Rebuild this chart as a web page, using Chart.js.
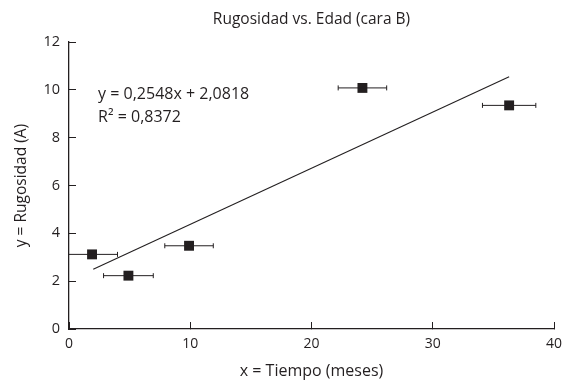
<!DOCTYPE html>
<html>
<head>
<meta charset="utf-8">
<script src="https://cdn.jsdelivr.net/npm/chart.js@4"></script>
<style>
  html, body { margin: 0; padding: 0; background: #fff; }
  #wrap { width: 566px; height: 392px; }
</style>
</head>
<body>
<div id="wrap"><canvas id="chart"></canvas></div>
<script>
// datos
const tiempo = [1.9, 4.9, 9.9, 24.2, 36.3];
const rugosidad = [3.12, 2.23, 3.48, 10.08, 9.35];
const errTiempo = [2.1, 2.05, 2.0, 2.0, 2.2];
const tendX = [2.0, 36.3];
const tendY = [2.5, 10.55];
const ecuacion = ['y = 0,2548x + 2,0818', 'R² = 0,8372'];
const FONT = '"Open Sans", "Noto Sans", sans-serif';
const INK = '#231f20';

// barras de error horizontales
const errorBars = {
  id: 'errorBars',
  afterDatasetsDraw(chart) {
    const { ctx, scales: { x, y }, chartArea } = chart;
    ctx.save();
    ctx.strokeStyle = INK;
    ctx.lineWidth = 1;
    tiempo.forEach((t, i) => {
      const py = y.getPixelForValue(rugosidad[i]);
      const x1 = Math.max(x.getPixelForValue(t - errTiempo[i]), chartArea.left);
      const x2 = x.getPixelForValue(t + errTiempo[i]);
      ctx.beginPath();
      ctx.moveTo(x1, py); ctx.lineTo(x2, py);
      if (x1 > chartArea.left) { ctx.moveTo(x1, py - 2.5); ctx.lineTo(x1, py + 2.5); }
      ctx.moveTo(x2, py - 2.5); ctx.lineTo(x2, py + 2.5);
      ctx.stroke();
    });
    ctx.restore();
  },
};

// ecuación de la recta
const eqLabel = {
  id: 'eqLabel',
  afterDraw(chart) {
    const { ctx, scales: { x, y } } = chart;
    ctx.save();
    ctx.fillStyle = INK;
    ctx.font = '16px ' + FONT;
    ctx.textBaseline = 'middle';
    const px = x.getPixelForValue(2.4);
    ctx.fillText(ecuacion[0], px, y.getPixelForValue(9.82));
    ctx.fillText(ecuacion[1], px, y.getPixelForValue(8.86));
    ctx.restore();
  },
};

new Chart(document.getElementById('chart'), {
  type: 'scatter',
  data: {
    datasets: [
      {
        data: tiempo.map((t, i) => ({ x: t, y: rugosidad[i] })),
        pointStyle: 'rect',
        pointRadius: 7,
        backgroundColor: INK,
        borderColor: INK,
        borderWidth: 0,
      },
      {
        type: 'line',
        data: tendX.map((t, i) => ({ x: t, y: tendY[i] })),
        borderColor: INK,
        borderWidth: 1.1,
        pointRadius: 0,
        fill: false,
      },
    ],
  },
  options: {
    responsive: true,
    maintainAspectRatio: false,
    animation: false,
    layout: { padding: { left: 0, right: 6, top: 0, bottom: 0 } },
    plugins: {
      legend: { display: false },
      tooltip: { enabled: false },
      title: {
        display: true,
        fullSize: false,
        text: 'Rugosidad vs. Edad (cara B)',
        color: INK,
        font: { family: FONT, size: 15.5, weight: 'normal' },
        padding: { top: 10.7, bottom: 12.7 },
      },
    },
    scales: {
      x: {
        type: 'linear',
        min: 0,
        max: 40,
        ticks: { stepSize: 10, color: INK, padding: 14, font: { family: FONT, size: 14 } },
        grid: { drawOnChartArea: false, tickLength: -7, color: INK, lineWidth: 1 },
        border: { color: INK, width: 1.3 },
        title: {
          display: true,
          text: 'x = Tiempo (meses)',
          color: INK,
          font: { family: FONT, size: 16 },
          padding: { top: 8, bottom: 11.4 },
        },
        afterFit: (s) => { s.height = 63; s.paddingRight = 12; },
      },
      y: {
        min: 0,
        max: 12,
        ticks: { stepSize: 2, color: INK, padding: 16, font: { family: FONT, size: 14.5 } },
        grid: { drawOnChartArea: false, tickLength: -7, color: INK, lineWidth: 1 },
        border: { color: INK, width: 1.3 },
        title: {
          display: true,
          text: 'y = Rugosidad (A)',
          color: INK,
          font: { family: FONT, size: 15.5 },
          padding: { top: 12.4, bottom: 4 },
        },
        afterFit: (s) => { s.width = 69; },
      },
    },
  },
  plugins: [errorBars, eqLabel],
});
</script>
</body>
</html>
